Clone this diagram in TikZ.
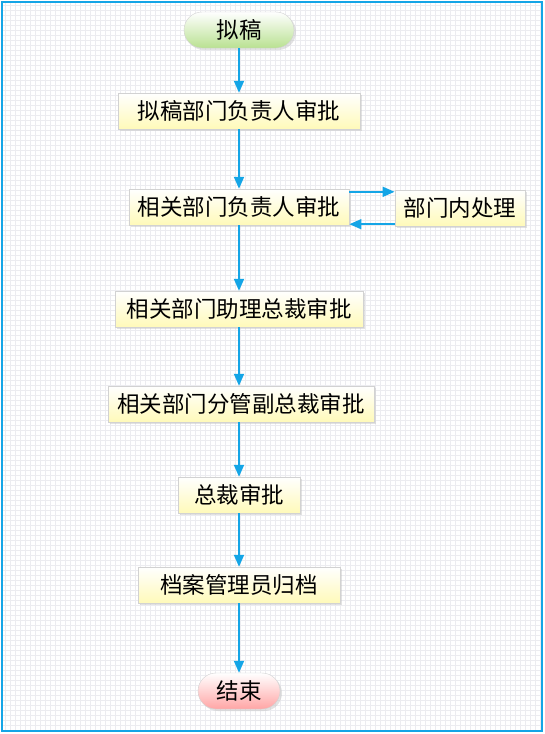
\documentclass[tikz,border=0pt]{standalone}
\usepackage{fontspec}
\setmainfont{Noto Sans CJK SC}
\usetikzlibrary{positioning, shadows, arrows.meta}
\definecolor{FlowBlue}{RGB}{20,165,230}
\definecolor{GridGray}{RGB}{236,236,240}
\definecolor{BoxYellow}{RGB}{255,250,185}
\definecolor{PillGreen}{RGB}{185,225,145}
\definecolor{PillRed}{RGB}{255,165,165}
\tikzset{
    stepbox/.style={
        draw=gray!35, top color=white, bottom color=BoxYellow,
        minimum height=36pt, inner xsep=9pt, text=black,
        font=\fontsize{22.5}{24}\selectfont,
        drop shadow={shadow xshift=2pt, shadow yshift=-2pt, fill=gray!45}
    },
    startpill/.style={
        stepbox, rounded corners=18pt, bottom color=PillGreen
    },
    endpill/.style={
        stepbox, rounded corners=18pt, bottom color=PillRed
    },
    flow/.style={
        -{Triangle[length=12pt, width=10pt]}, line width=1.8pt, FlowBlue
    }
}
\begin{document}
\begin{tikzpicture}[x=1pt, y=-1pt]
    \useasboundingbox (0,0) rectangle (545,734);
    % background grid and frame
    \fill[white] (2,2) rectangle (542,731);
    \draw[GridGray, line width=0.5pt, step=5pt] (2,2) grid (542,731);
    \draw[FlowBlue, line width=2pt] (2,2) rectangle (542,731);
    % steps
    \node[startpill, minimum width=110pt] (draft) at (239,30) {拟稿};
    \node[stepbox, minimum width=242pt] (owner) at (239,111) {拟稿部门负责人审批};
    \node[stepbox] (related) at (239,207) {相关部门负责人审批};
    \node[stepbox, minimum width=126pt] (inner) at (460,208) {部门内处理};
    \node[stepbox, minimum width=248pt] (assist) at (239,309) {相关部门助理总裁审批};
    \node[stepbox] (vice) at (241,404) {相关部门分管副总裁审批};
    \node[stepbox, minimum width=122pt] (ceo) at (239,495) {总裁审批};
    \node[stepbox, minimum width=202pt] (archive) at (239,585) {档案管理员归档};
    \node[endpill, minimum width=82pt] (finish) at (239,691) {结束};
    % connectors
    \draw[flow] (draft) -- (owner);
    \draw[flow] (owner) -- (related);
    \draw[flow] (related) -- (assist);
    \draw[flow] (assist) -- (vice.north -| assist);
    \draw[flow] (vice.south -| assist) -- (ceo);
    \draw[flow] (ceo) -- (archive);
    \draw[flow] (archive) -- (finish);
    \draw[flow] ([yshift=-3pt]related.north east) -- ([yshift=-3pt]related.north east -| inner.west);
    \draw[flow] ([yshift=2pt]inner.south west) -- ([yshift=2pt]inner.south west -| related.east);
\end{tikzpicture}
\end{document}
